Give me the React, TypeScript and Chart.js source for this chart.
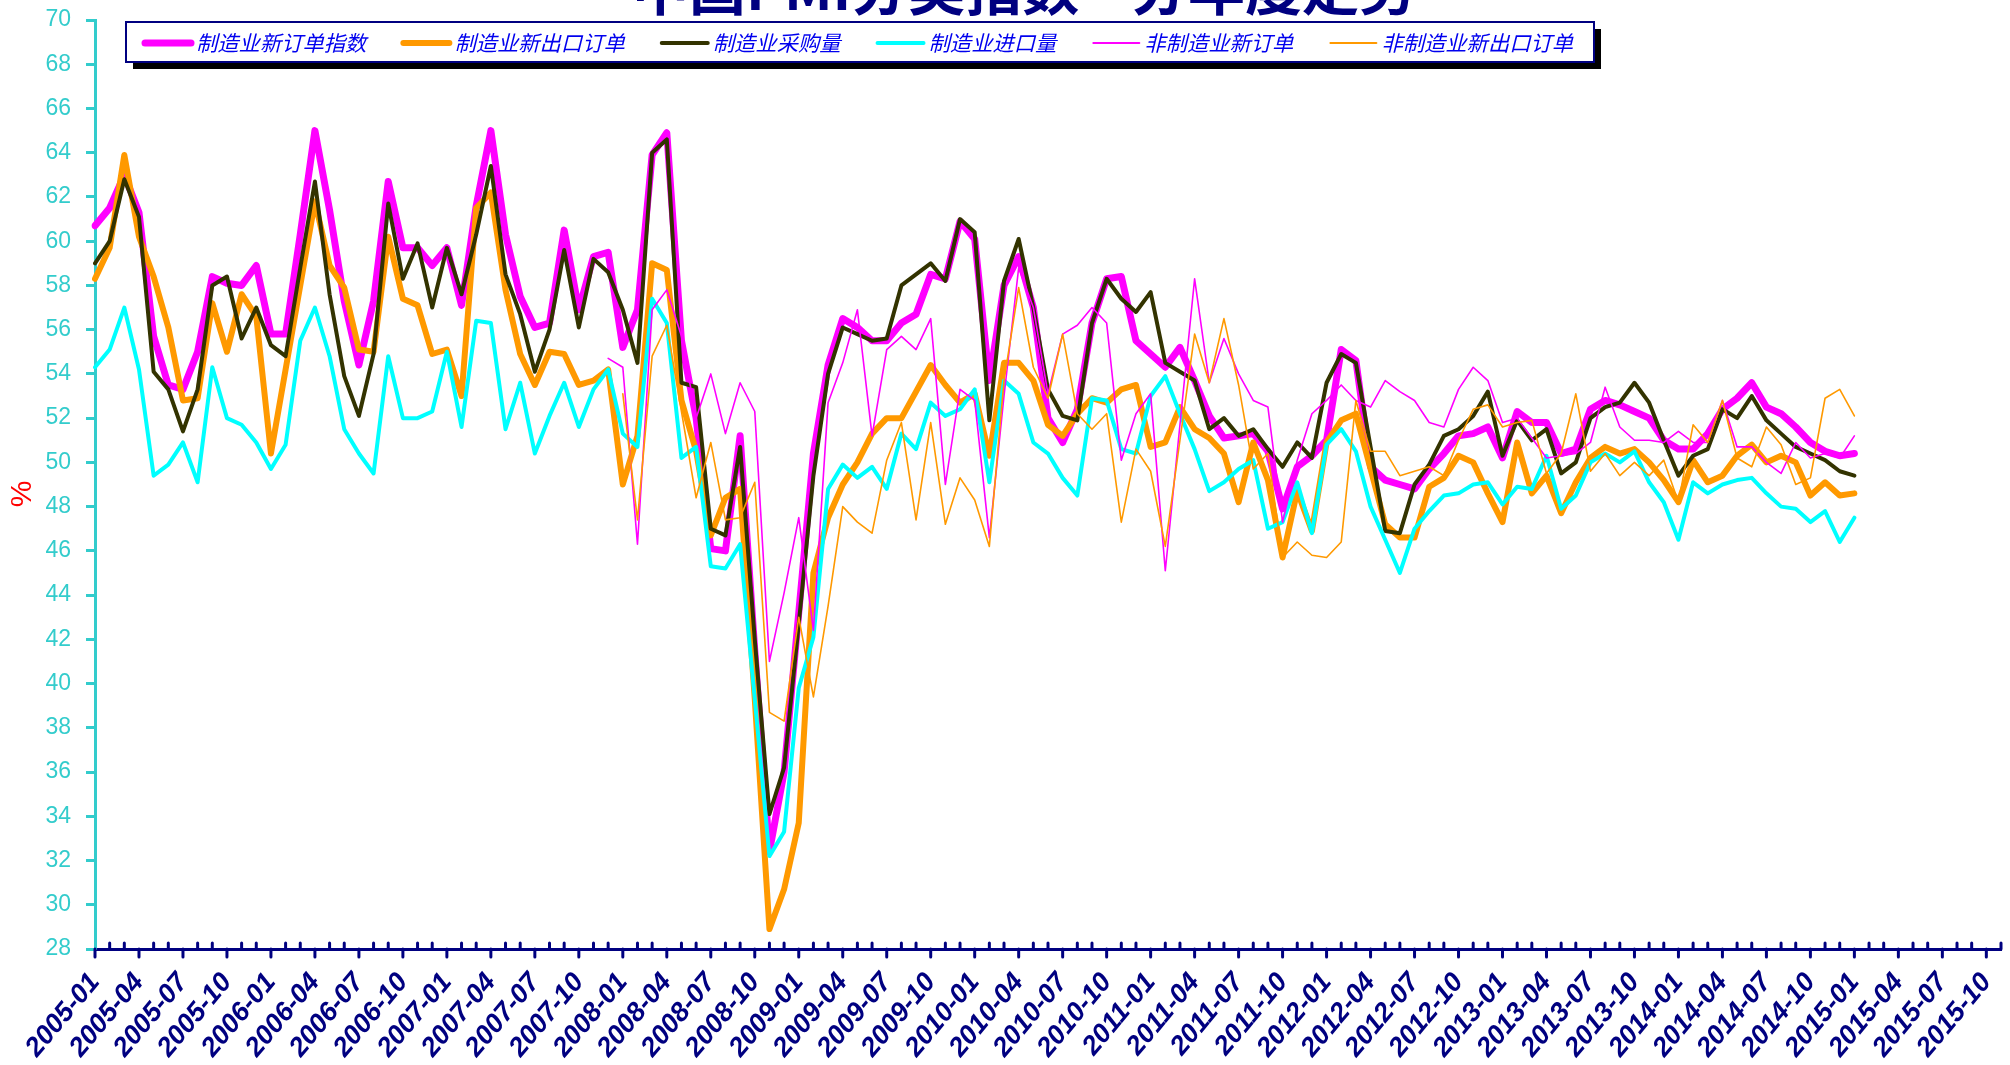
import React, { useEffect, useRef } from 'react';
import { Chart, registerables } from 'chart.js';

Chart.register(...registerables);

const TITLE = '中国PMI分类指数—分年度走势';
const Y_TITLE = '%';

// months 2005-01 .. 2015-11 (category axis)
const YEARS = [2005, 2006, 2007, 2008, 2009, 2010, 2011, 2012, 2013, 2014, 2015];
const MONTHS = ['01', '02', '03', '04', '05', '06', '07', '08', '09', '10', '11', '12'];
const categories: string[] = [];
YEARS.forEach((y) => MONTHS.forEach((m) => categories.push(`${y}-${m}`)));
categories.splice(131);

const SERIES_NAMES = ['制造业新订单指数', '制造业新出口订单', '制造业采购量', '制造业进口量', '非制造业新订单', '非制造业新出口订单'];

const mfgNewOrders = [
  60.7, 61.5, 63.0, 61.3, 55.7, 53.5, 53.3, 55.0, 58.4, 58.1, 58.0, 58.9,
  55.8, 55.8, 60.3, 65.0, 61.4, 57.3, 54.4, 57.3, 62.7, 59.7, 59.7, 58.9,
  59.7, 57.1, 61.6, 65.0, 60.3, 57.5, 56.1, 56.3, 60.5, 56.9, 59.3, 59.5,
  55.2, 56.9, 63.9, 64.9, 55.5, 52.0, 46.1, 46.0, 51.2, 41.5, 32.4, 36.0,
  43.2, 50.4, 54.4, 56.5, 56.1, 55.5, 55.5, 56.3, 56.7, 58.5, 58.3, 60.9,
  60.1, 53.7, 58.0, 59.3, 57.0, 52.0, 50.9, 52.4, 56.3, 58.3, 58.4, 55.5,
  54.9, 54.3, 55.2, 53.7, 52.1, 51.1, 51.2, 51.3, 50.5, 47.9, 49.8, 50.3,
  51.0, 55.1, 54.6, 49.8, 49.2, 49.0, 48.8, 49.7, 50.4, 51.2, 51.3, 51.6,
  50.2, 52.3, 51.8, 51.8, 50.4, 50.6, 52.4, 52.8, 52.6, 52.3, 52.0, 51.0,
  50.6, 50.6, 51.3, 52.4, 52.9, 53.6, 52.5, 52.2, 51.6, 50.9, 50.5, 50.3,
  50.4,
];

const mfgExportOrders = [
  58.3, 59.7, 63.9, 60.2, 58.4, 56.1, 52.8, 52.9, 57.2, 55.0, 57.6, 56.6,
  50.4, 54.2, 58.0, 61.8, 58.9, 57.9, 55.1, 55.0, 60.2, 57.4, 57.1, 54.9,
  55.1, 53.0, 61.5, 62.2, 57.8, 54.9, 53.5, 55.0, 54.9, 53.5, 53.7, 54.2,
  49.0, 51.2, 59.0, 58.7, 52.8, 50.5, 46.7, 48.4, 48.8, 39.3, 28.9, 30.7,
  33.7, 45.0, 47.5, 49.0, 50.0, 51.3, 52.0, 52.0, 53.2, 54.4, 53.5, 52.7,
  53.1, 50.3, 54.5, 54.5, 53.7, 51.7, 51.2, 52.2, 52.9, 52.7, 53.3, 53.5,
  50.7, 50.9, 52.5, 51.5, 51.1, 50.4, 48.2, 50.9, 49.2, 45.7, 48.7, 46.9,
  50.9, 51.9, 52.2, 49.7, 47.2, 46.6, 46.6, 48.9, 49.3, 50.3, 50.0, 48.6,
  47.3, 50.9, 48.6, 49.4, 47.7, 49.1, 50.2, 50.7, 50.4, 50.6, 50.0, 49.2,
  48.2, 50.1, 49.1, 49.4, 50.3, 50.8, 50.0, 50.3, 50.0, 48.5, 49.1, 48.5,
  48.6,
];

const mfgPurchases = [
  59.0, 60.0, 62.8, 61.1, 54.1, 53.3, 51.4, 53.3, 58.0, 58.4, 55.6, 57.0,
  55.3, 54.8, 58.8, 62.7, 57.6, 53.9, 52.1, 54.9, 61.7, 58.3, 59.9, 57.0,
  59.7, 57.6, 60.3, 63.4, 58.5, 56.7, 54.1, 56.0, 59.6, 56.1, 59.2, 58.6,
  56.9, 54.5, 64.0, 64.6, 53.6, 53.4, 47.0, 46.7, 50.7, 42.0, 34.1, 36.2,
  42.7, 49.4, 54.0, 56.1, 55.8, 55.5, 55.6, 58.0, 58.5, 59.0, 58.2, 61.0,
  60.4, 51.9, 58.2, 60.1, 57.0, 53.3, 52.1, 51.9, 56.3, 58.3, 57.4, 56.8,
  57.7, 54.5, 54.1, 53.7, 51.5, 52.0, 51.2, 51.5, 50.6, 49.8, 50.9, 50.2,
  53.6, 54.9, 54.5, 50.7, 46.9, 46.8, 49.0, 49.9, 51.2, 51.5, 52.1, 53.2,
  50.3, 51.9, 51.0, 51.5, 49.5, 50.0, 52.0, 52.5, 52.7, 53.6, 52.7, 51.0,
  49.4, 50.3, 50.6, 52.4, 52.0, 53.0, 51.9, 51.3, 50.7, 50.4, 50.1, 49.6,
  49.4,
];

const mfgImports = [
  54.3, 55.1, 57.0, 54.2, 49.4, 49.9, 50.9, 49.1, 54.3, 52.0, 51.7, 50.9,
  49.7, 50.8, 55.5, 57.0, 54.8, 51.5, 50.4, 49.5, 54.8, 52.0, 52.0, 52.3,
  55.0, 51.6, 56.4, 56.3, 51.5, 53.6, 50.4, 52.1, 53.6, 51.6, 53.3, 54.2,
  51.3, 50.7, 57.4, 56.3, 50.2, 50.7, 45.3, 45.2, 46.3, 39.3, 32.2, 33.3,
  39.8, 42.1, 48.8, 49.9, 49.3, 49.8, 48.8, 51.3, 50.6, 52.7, 52.1, 52.4,
  53.3, 49.1, 53.7, 53.1, 50.9, 50.4, 49.3, 48.5, 52.9, 52.8, 50.6, 50.4,
  53.0, 53.9, 52.2, 50.6, 48.7, 49.1, 49.7, 50.1, 47.0, 47.3, 49.1, 46.8,
  50.8, 51.5, 50.5, 48.0, 46.5, 45.0, 47.0, 47.8, 48.5, 48.6, 49.0, 49.1,
  48.1, 48.9, 48.8, 50.3, 47.9, 48.5, 50.0, 50.4, 50.0, 50.5, 49.1, 48.2,
  46.5, 49.1, 48.6, 49.0, 49.2, 49.3, 48.6, 48.0, 47.9, 47.3, 47.8, 46.4,
  47.5,
];

// non-manufacturing series begin later
const NON_MFG_ORDERS_START = '2007-12';
const nonMfgNewOrders = [
  54.7,
  54.3, 46.3, 56.9, 57.8, 55.7, 52.0, 54.0, 51.3, 53.6, 52.3, 41.0, 44.1,
  47.5, 42.4, 52.7, 54.5, 56.9, 51.2, 55.1, 55.7, 55.1, 56.5, 49.0, 53.3,
  52.8, 46.6, 53.0, 58.8, 57.0, 53.1, 55.8, 56.2, 57.0, 56.3, 50.1, 52.2,
  53.1, 45.1, 51.7, 58.3, 53.6, 55.6, 54.0, 52.8, 52.5, 47.3, 50.1, 52.2,
  52.8, 53.5, 52.8, 52.5, 53.7, 53.2, 52.8, 51.8, 51.6, 53.3, 54.3, 53.7,
  51.8, 52.0, 51.1, 50.2, 50.3, 50.4, 50.9, 53.4, 51.6, 51.0, 51.0, 50.9,
  51.4, 50.9, 50.9, 52.8, 50.7, 50.7, 50.0, 49.5, 50.9, 50.2, 50.4, 50.2,
  51.2,
];

const NON_MFG_EXPORT_START = '2008-01';
const nonMfgExportOrders = [
  53.1, 47.4, 54.8, 56.2, 52.3, 48.4, 50.9, 47.4, 47.5, 49.1, 38.7, 38.3,
  43.0, 39.4, 43.5, 48.0, 47.3, 46.8, 50.1, 51.8, 47.4, 51.8, 47.2, 49.3,
  48.3, 46.2, 53.7, 57.9, 54.3, 52.9, 55.8, 52.2, 51.5, 52.2, 47.3, 50.6,
  49.6, 46.2, 51.0, 55.8, 53.6, 56.5, 53.5, 49.7, 50.4, 45.7, 46.4, 45.8,
  45.7, 46.4, 52.8, 50.5, 50.5, 49.4, 49.6, 49.8, 49.4, 51.0, 52.4, 52.6,
  51.6, 51.8, 51.9, 49.5, 50.4, 53.1, 49.6, 50.4, 49.4, 50.0, 49.4, 50.1,
  48.2, 51.7, 50.9, 52.8, 50.2, 49.8, 51.6, 50.8, 49.0, 49.3, 52.9, 53.3,
  52.1,
];

const Y_MIN = 28;
const Y_MAX = 70;
const Y_STEP = 2;

const padFrom = (start: string, values: number[]) => {
  const idx = categories.indexOf(start);
  return [...new Array(idx).fill(null), ...values];
};

const NAVY = '#000080';
const TURQ = '#33CCCC';

const decoPlugin = {
  id: 'deco',
  beforeDraw(chart: any) {
    const { ctx, width, height } = chart;
    ctx.save();
    ctx.fillStyle = '#ffffff';
    ctx.fillRect(0, 0, width, height);
    ctx.restore();
  },
  afterDraw(chart: any) {
    const { ctx, chartArea } = chart;
    const xs = chart.scales.x;
    const y0 = chartArea.bottom;
    ctx.save();
    // x-axis tick marks: major (labelled) outside, minor inside
    ctx.strokeStyle = NAVY;
    ctx.lineWidth = 3;
    ctx.lineCap = 'round';
    const n = chart.data.labels.length;
    for (let i = 0; i < n; i++) {
      const px = xs.getPixelForValue(i);
      ctx.beginPath();
      if (i % 3 === 0) {
        ctx.moveTo(px, y0);
        ctx.lineTo(px, y0 + 8);
      } else {
        ctx.moveTo(px, y0);
        ctx.lineTo(px, y0 - 6);
      }
      ctx.stroke();
    }

    // y-axis unit label
    ctx.save();
    ctx.translate(23, 494);
    ctx.rotate(-Math.PI / 2);
    ctx.fillStyle = '#FF0000';
    ctx.font = '30px "Liberation Sans", Arial, sans-serif';
    ctx.textAlign = 'center';
    ctx.textBaseline = 'middle';
    ctx.fillText(Y_TITLE, 0, 0);
    ctx.restore();

    // title (partly above the canvas top)
    ctx.fillStyle = NAVY;
    ctx.font = 'bold 57px "Noto Sans CJK SC", sans-serif';
    ctx.textAlign = 'center';
    ctx.textBaseline = 'alphabetic';
    ctx.fillText(TITLE, 1024, 10);

    // legend box
    const bx = 126, by = 22, bw = 1468, bh = 40;
    ctx.fillStyle = '#000000';
    ctx.fillRect(bx + 7, by + 7, bw, bh);
    ctx.fillStyle = '#ffffff';
    ctx.fillRect(bx, by, bw, bh);
    ctx.strokeStyle = NAVY;
    ctx.lineWidth = 2;
    ctx.strokeRect(bx, by, bw, bh);

    ctx.font = 'italic 21.3px "Noto Sans CJK SC", sans-serif';
    ctx.textAlign = 'left';
    ctx.textBaseline = 'middle';
    let x = 145;
    const cy = by + bh / 2 + 1;
    chart.data.datasets.forEach((ds: any) => {
      ctx.strokeStyle = ds.borderColor;
      ctx.lineWidth = ds.legendWidth;
      ctx.lineCap = 'round';
      ctx.beginPath();
      ctx.moveTo(x, cy);
      ctx.lineTo(x + 46, cy);
      ctx.stroke();
      x += 51;
      ctx.fillStyle = '#0000EE';
      ctx.fillText(ds.label, x, cy);
      x += ctx.measureText(ds.label).width + 37;
    });
    ctx.restore();
  },
};

export default function App() {
  const ref = useRef<HTMLCanvasElement>(null);

  useEffect(() => {
    const canvas = ref.current;
    if (!canvas) return;
    const mk = (i: number, data: (number | null)[], color: string, width: number, legendWidth: number) => ({
      label: SERIES_NAMES[i],
      data,
      borderColor: color,
      backgroundColor: color,
      borderWidth: width,
      legendWidth,
      pointRadius: 0,
      pointHoverRadius: 0,
      tension: 0,
      fill: false,
      spanGaps: false,
      borderJoinStyle: 'round' as const,
      borderCapStyle: 'round' as const,
      order: 10 - i,
    });

    const chart = new Chart(canvas, {
      type: 'line',
      data: {
        labels: categories,
        datasets: [
          mk(0, mfgNewOrders, '#FF00FF', 7, 7),
          mk(1, mfgExportOrders, '#FF9900', 6, 6),
          mk(2, mfgPurchases, '#333300', 4, 4),
          mk(3, mfgImports, '#00FFFF', 4, 4),
          mk(4, padFrom(NON_MFG_ORDERS_START, nonMfgNewOrders), '#FF00FF', 1.6, 2),
          mk(5, padFrom(NON_MFG_EXPORT_START, nonMfgExportOrders), '#FF9900', 1.6, 2),
        ] as any,
      },
      options: {
        responsive: false,
        maintainAspectRatio: false,
        animation: false,
        devicePixelRatio: 1,
        layout: { padding: { top: 20, right: 9, left: 0, bottom: 0 } },
        plugins: {
          legend: { display: false },
          title: { display: false },
          tooltip: { enabled: false },
        },
        scales: {
          x: {
            type: 'category',
            offset: false,
            grid: { display: true, drawOnChartArea: false, drawTicks: false },
            border: { display: true, color: NAVY, width: 3 },
            ticks: {
              autoSkip: false,
              maxRotation: 50,
              minRotation: 50,
              padding: 18,
              color: NAVY,
              font: { family: '"Liberation Sans", Arial, sans-serif', size: 27, weight: 'bold', style: 'italic' },
              callback: (_v: any, i: number) => (i % 3 === 0 ? categories[i] : ''),
            },
            afterFit: (s: any) => {
              s.height = 116;
              s.paddingLeft = 0;
              s.paddingRight = 0;
            },
          },
          y: {
            min: Y_MIN,
            max: Y_MAX,
            grid: { display: true, drawOnChartArea: false, drawTicks: true, tickLength: 9, tickWidth: 3, tickColor: TURQ },
            border: { display: true, color: TURQ, width: 3 },
            ticks: {
              stepSize: Y_STEP,
              padding: 15,
              color: TURQ,
              font: { family: '"Liberation Sans", Arial, sans-serif', size: 23 },
            },
            title: { display: false },
            afterFit: (s: any) => {
              s.width = 95;
              s.paddingTop = 0;
              s.paddingBottom = 0;
            },
          },
        },
      },
      plugins: [decoPlugin],
    });
    return () => chart.destroy();
  }, []);

  return (
    <div style={{ position: 'absolute', left: 0, top: 0, width: 2010, height: 1065 }}>
      <canvas ref={ref} width={2010} height={1065} style={{ display: 'block', width: 2010, height: 1065 }} />
    </div>
  );
}
